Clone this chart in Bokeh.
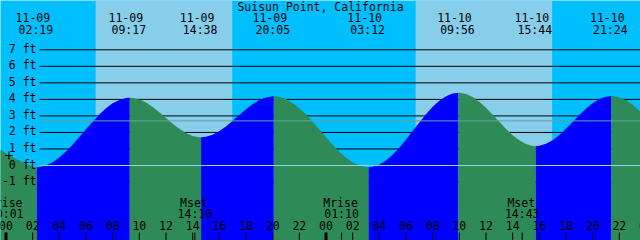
from bokeh.plotting import figure
from bokeh.models import Range1d
from bokeh.embed import file_html
from bokeh.resources import INLINE
from bokeh.core.properties import value

# ---------------- data (hours counted from 11-09 00:00) ----------------
title = "Suisun Point, California"

event_hours = [2.317, 9.283, 14.633, 20.083, 27.2, 33.933, 39.733, 45.4]
event_heights = [-0.1, 4.1, 1.71, 4.19, -0.1, 4.4, 1.17, 4.2]
event_kinds = ["low", "high", "low", "high", "low", "high", "low", "high"]
event_dates = ["11-09", "11-09", "11-09", "11-09", "11-10", "11-10", "11-10", "11-10"]
event_times = ["02:19", "09:17", "14:38", "20:05", "03:12", "09:56", "15:44", "21:24"]

# tide height (-1 .. 48)
hour_marks = list(range(-1, 49))
hourly_heights = [1.25, 0.75, 0.3, -0.07, 0.0, 0.48, 1.26, 2.19, 3.08, 3.76,
                  4.08, 4.0, 3.54, 2.87, 2.22, 1.79, 1.74, 2.08, 2.70, 3.40,
                  3.96, 4.19, 4.02, 3.47, 2.64, 1.71, 0.83, 0.19, -0.09, 0.06,
                  0.65, 1.56, 2.60, 3.55, 4.19, 4.40, 4.14, 3.49, 2.64, 1.83,
                  1.30, 1.19, 1.53, 2.22, 3.05, 3.77, 4.16, 4.12, 3.67, 2.89]

# tide height at half past (-0.5 .. 47.5)
half_marks = [h + 0.5 for h in range(-1, 48)]
half_heights = [1.0, 0.5, 0.1, -0.09, 0.19, 0.84, 1.72, 2.65, 3.46, 3.97,
                4.09, 3.81, 3.22, 2.53, 1.96, 1.71, 1.86, 2.36, 3.05, 3.71,
                4.12, 4.15, 3.78, 3.08, 2.18, 1.25, 0.48, 0.0, -0.08, 0.30,
                1.08, 2.08, 3.10, 3.92, 4.35, 4.32, 3.85, 3.07, 2.21, 1.52,
                1.18, 1.31, 1.84, 2.63, 3.43, 4.02, 4.2, 3.94, 3.31]

sunrise_hours = [6.72, 30.72]
sunset_hours = [16.97, 40.96]

moon_hours = [0.017, 14.167, 25.167, 38.717]
moon_names = ["Mrise", "Mset", "Mrise", "Mset"]
moon_times = ["00:01", "14:10", "01:10", "14:43"]

level_feet = [-1, 0, 1, 2, 3, 4, 5, 6, 7]
mean_level = 2.7
marker_hour = [0.22]
marker_height = [0.6]

# ---------------- styling / layout ----------------
W, H = 640, 240
PX_PER_H = W / 48.0
PX_PER_FT = 16.53
X0 = -5.5 / PX_PER_H
Y_TOP = 165.0 / PX_PER_FT

NIGHT = "#00BFFF"
DAY = "#87CEEB"
RISE = "#0000FF"
FALL = "#2E8B57"
FONT = value("DejaVu Sans Mono")
FS = "11.5px"
CHAR_PX = 6.93


def px_x(px):
    return X0 + px / PX_PER_H


def px_y(py):
    return Y_TOP - py / PX_PER_FT


p = figure(width=W, height=H, output_backend="svg", toolbar_location=None,
           x_range=Range1d(X0, X0 + 48), y_range=Range1d(px_y(H), Y_TOP),
           min_border=0, x_axis_location=None, y_axis_location=None)
p.grid.visible = False
p.outline_line_color = None
p.background_fill_color = NIGHT
p.border_fill_color = NIGHT

# daylight bands
p.quad(left=sunrise_hours, right=sunset_hours, bottom=px_y(H) - 1, top=Y_TOP + 1,
       fill_color=DAY, line_color=None)

# level lines (behind water)
line_start = px_x(39)
x_end = X0 + 48
grid_levels = [f for f in level_feet if f != 0]
p.segment(x0=[line_start] * len(grid_levels), x1=[x_end] * len(grid_levels),
          y0=grid_levels, y1=grid_levels, line_color="black", line_width=1)

# tide curve: readings plus the high/low events
pts = sorted(list(zip(hour_marks, hourly_heights)) + list(zip(half_marks, half_heights))
             + list(zip(event_hours, event_heights)))
bounds = [hour_marks[0]] + event_hours + [hour_marks[-1]]
bottom = px_y(H) - 1
for i in range(len(bounds) - 1):
    a, b = bounds[i], bounds[i + 1]
    seg = [(t, h) for t, h in pts if a <= t <= b]
    rising = i < len(event_kinds) and event_kinds[i] == "high"
    xs = [t for t, _ in seg]
    ys = [h for _, h in seg]
    p.varea(x=xs, y1=[bottom] * len(xs), y2=ys, fill_color=RISE if rising else FALL)

# datum and mean-level lines over the water
p.segment(x0=[line_start], x1=[x_end], y0=[0], y1=[0], line_color="#92D5EC", line_width=1)
p.segment(x0=[line_start], x1=[x_end], y0=[mean_level], y1=[mean_level],
          line_color="#62A3A6", line_width=1)

# level labels
p.text(x=[px_x(36)] * len(level_feet), y=level_feet, text=[f"{f} ft" for f in level_feet],
       text_font=FONT, text_font_size=FS, text_align="right", text_baseline="middle",
       y_offset=-1, text_color="black")

# title
p.text(x=[px_x(320)], y=[px_y(6)], text=[title], text_font=FONT, text_font_size=FS,
       text_align="center", text_baseline="middle", text_color="black")

# event labels
p.text(x=event_hours, y=[px_y(16.7)] * len(event_hours), text=event_dates, x_offset=-4,
       text_font=FONT, text_font_size=FS, text_align="center", text_baseline="middle")
p.text(x=event_hours, y=[px_y(29)] * len(event_hours), text=event_times, x_offset=-1,
       text_font=FONT, text_font_size=FS, text_align="center", text_baseline="middle")

# moon labels
p.text(x=moon_hours, y=[px_y(202)] * len(moon_hours), text=moon_names, x_offset=-1,
       text_font=FONT, text_font_size=FS, text_align="center", text_baseline="middle")
p.text(x=moon_hours, y=[px_y(213.5)] * len(moon_hours), text=moon_times,
       text_font=FONT, text_font_size=FS, text_align="center", text_baseline="middle")

# hour ticks and labels
even_hours = list(range(0, 49, 2))
inside = [h for h in even_hours if h < x_end]
edge = [h for h in even_hours if h >= x_end]
p.text(x=inside, y=[px_y(225)] * len(inside), text=[f"{h % 24:02d}" for h in inside],
       text_font=FONT, text_font_size=FS, text_align="center", text_baseline="middle")
# label whose centre falls just past the right edge: anchor its left side instead
p.text(x=[h - CHAR_PX / PX_PER_H for h in edge], y=[px_y(225)] * len(edge),
       text=[f"{h % 24:02d}" for h in edge],
       text_font=FONT, text_font_size=FS, text_align="left", text_baseline="middle")
normal = [h for h in even_hours if h % 24 != 0]
midnight = [h for h in even_hours if h % 24 == 0]
p.segment(x0=normal, x1=normal, y0=[px_y(232)] * len(normal), y1=[px_y(241)] * len(normal),
          line_color="black", line_width=1)
p.segment(x0=midnight, x1=midnight, y0=[px_y(232)] * len(midnight), y1=[px_y(241)] * len(midnight),
          line_color="black", line_width=3)
p.segment(x0=moon_hours, x1=moon_hours, y0=[px_y(232)] * len(moon_hours),
          y1=[px_y(241)] * len(moon_hours), line_color="black", line_width=1)

# small cross mark
p.scatter(x=marker_hour, y=marker_height, marker="cross", size=8, line_color="black", line_width=1)

open("out.html", "w").write(file_html(p, INLINE))
